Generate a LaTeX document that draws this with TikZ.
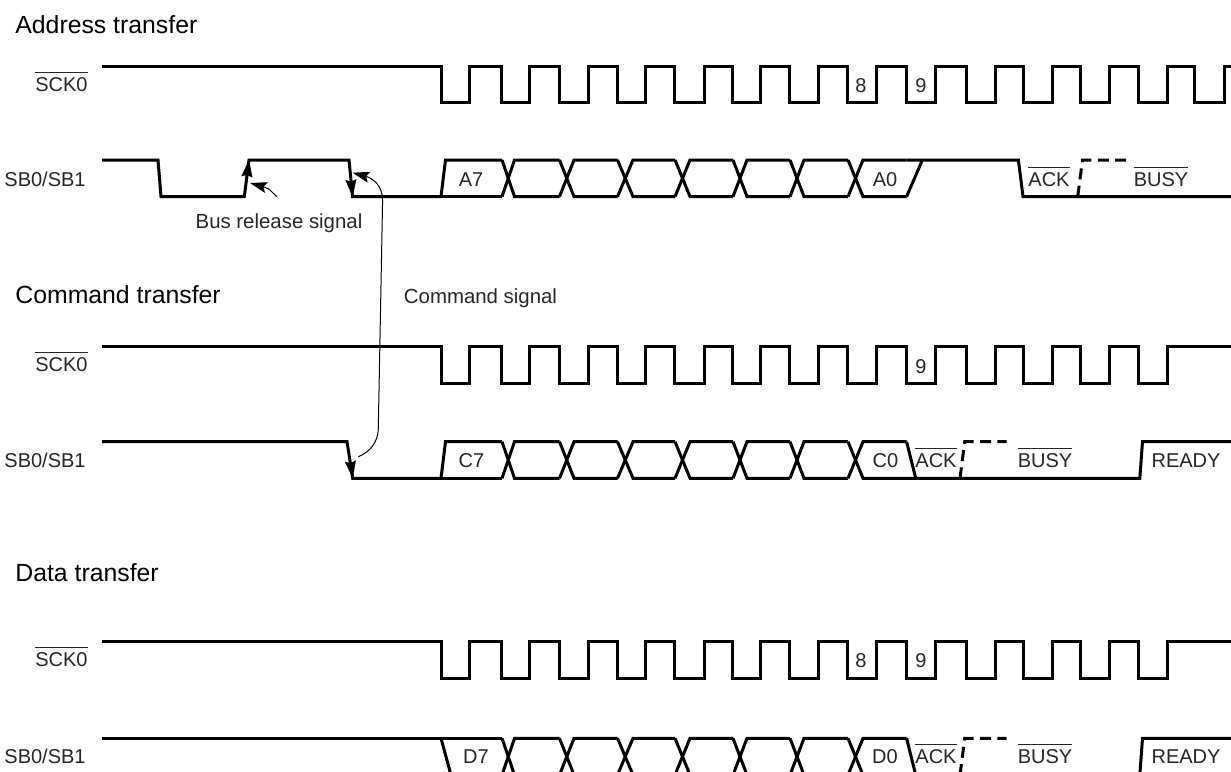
\documentclass[tikz,border=0pt]{standalone}
\usepackage{fontspec}
\setmainfont{Liberation Sans}
\usetikzlibrary{arrows.meta}
\newcommand{\barred}[1]{$\overline{\mbox{\rule{0pt}{8.1pt}#1}}$}
\def\clkedges{441/469,501/529,559/588,617/645.7,674.5/704,732/760,789/818,847/876,906.5/935.5,966/995,1023/1052,1080.5/1109,1138.5/1167.5}
\def\buscross{502/514.5/559.5,559.5/574/617.5,617.5/633/675,675/690/733,733/747/790,790/804/848,848/863/906.6}
\tikzset{
  wave/.style={line width=1.5pt,line join=miter},
  dashwave/.style={wave,dash pattern=on 5.5pt off 3.2pt},
  pointer/.style={line width=0.5pt,-{Stealth[length=8.5pt,width=5.5pt,inset=1.5pt]}},
  edgetip/.style={line width=0.1pt,-{Stealth[length=8.5pt,width=5.5pt,inset=1pt]}},
  title/.style={anchor=base west,inner sep=0pt,font=\fontsize{12.4}{14}\selectfont},
  lbl/.style={anchor=base,inner sep=0pt,font=\fontsize{10}{12}\selectfont,text=black!85},
  caption/.style={lbl,font=\fontsize{10.2}{12}\selectfont},
  rowlbl/.style={lbl,anchor=base east}
}
\begin{document}
\begin{tikzpicture}[x=0.5pt,y=-0.5pt]
  \useasboundingbox (0,0) rectangle (1231,771);
  \clip (0,0) rectangle (1231,771);

  \node[title] (addr) at (15,33) {Address transfer};
  \node[title] (cmd) at (15,303) {Command transfer};
  \node[title] (data) at (15,581) {Data transfer};

  % clock rows
  \draw[wave] (102,66) \foreach \f/\r in \clkedges { -- (\f,66) -- (\f,102.6) -- (\r,102.6) -- (\r,66) }
    -- (1194,66) -- (1194,102.6) -- (1224,102.6) -- (1224,66) -- (1231,66);
  \foreach \y in {346.7,641.7}{
    \draw[wave] (102,\y) \foreach \f/\r in \clkedges { -- (\f,\y) -- (\f,\y+36.6) -- (\r,\y+36.6) -- (\r,\y) } -- (1231,\y);
  }

  % bus crossings
  \foreach \y in {160,441.7,738.3}{
    \foreach \a/\b/\c in \buscross {
      \draw[wave] (\a,\y) -- (\b,\y+36.6) -- (\c,\y+36.6);
      \draw[wave] (\a,\y+36.6) -- (\b,\y) -- (\c,\y);
    }
  }

  % address row
  \draw[wave] (102,160) -- (158,160) -- (161,196.6) -- (244.3,196.6) -- (249,160) -- (349,160) -- (352.6,196.6)
    -- (441,196.6) -- (445.5,160) -- (502,160);
  \draw[wave] (441,196.6) -- (502,196.6);
  \draw[wave] (906.6,160) -- (1018.4,160) -- (1023,196.6) -- (1231,196.6);
  \draw[wave] (906.6,196.6) -- (922.4,160);
  \draw[dashwave] (1077.7,196.6) -- (1082.5,160) -- (1126,160);

  % command row
  \draw[wave] (102,441.7) -- (347,441.7) -- (352.7,478.3) -- (441,478.3) -- (445.5,441.7) -- (502,441.7);
  \draw[wave] (441,478.3) -- (502,478.3);
  \draw[wave] (906,478.3) -- (1139.8,478.3) -- (1142.5,441.7) -- (1231,441.7);
  \draw[wave] (906.6,441.7) -- (915.7,478.3);
  \draw[dashwave] (960,478.3) -- (964.7,441.7) -- (1006.5,441.7);

  % data row
  \draw[wave] (102,738.3) -- (502,738.3);
  \draw[wave] (441,738.3) -- (451,775);
  \draw[wave] (906.6,738.3) -- (915.7,775);
  \draw[dashwave] (960,775) -- (964.7,738.3) -- (1006.5,738.3);
  \draw[wave] (1139.8,775) -- (1142.5,738.3) -- (1231,738.3);

  % row names
  \foreach \n/\y in {1/91,2/371,3/666}{
    \node[rowlbl] (sck\n) at (88,\y) {\barred{SCK0}};
  }
  \foreach \n/\y in {1/186,2/467,3/763}{
    \node[rowlbl] (sb\n) at (86,\y) {SB0/SB1};
  }

  % labels on the waves
  \node[lbl] (a7) at (471,186) {A7};
  \node[lbl] (a0) at (885,186) {A0};
  \node[lbl] (ack1) at (1049,186) {\barred{ACK}};
  \node[lbl] (busy1) at (1161,186) {\barred{BUSY}};
  \node[lbl] (c7) at (471.5,467) {C7};
  \node[lbl] (c0) at (885.5,467) {C0};
  \node[lbl] (ack2) at (936,467) {\barred{ACK}};
  \node[lbl] (busy2) at (1045,467) {\barred{BUSY}};
  \node[lbl] (ready2) at (1186,467) {READY};
  \node[lbl] (d7) at (476,763) {D7};
  \node[lbl] (d0) at (885,763) {D0};
  \node[lbl] (ack3) at (936,763) {\barred{ACK}};
  \node[lbl] (busy3) at (1045,763) {\barred{BUSY}};
  \node[lbl] (ready3) at (1186,763) {READY};
  \node[lbl] (n8a) at (861,92) {8};
  \node[lbl] (n9a) at (921,92) {9};
  \node[lbl] (n9b) at (921,373) {9};
  \node[lbl] (n8c) at (861,667) {8};
  \node[lbl] (n9c) at (921,667) {9};

  \node[caption] (busrel) at (279,228) {Bus release signal};
  \node[caption] (cmdsig) at (480.5,303) {Command signal};

  % arrows
  \coordinate (relfrom) at (276.7,196.6);
  \coordinate (relto) at (250,183);
  \coordinate (risebase) at (244.6,196);
  \coordinate (risetip) at (249,160);
  \coordinate (fallbase) at (349.5,165);
  \coordinate (falltip) at (352.6,196.6);
  \coordinate (cfallbase) at (348.5,447);
  \coordinate (cfalltip) at (352.7,478);
  \coordinate (cmdfrom) at (358.3,456.7);
  \coordinate (cmdto) at (352.6,172.7);

  \draw[pointer] (relfrom) .. controls (268,188) .. (relto);
  \draw[edgetip] (risebase) -- (risetip);
  \draw[edgetip] (fallbase) -- (falltip);
  \draw[edgetip] (cfallbase) -- (cfalltip);
  \draw[pointer] (cmdfrom) .. controls (370,452) and (378.3,442) .. (378.3,428)
    -- (382.6,200) .. controls (382.6,185) and (372,178) .. (cmdto);
\end{tikzpicture}
\end{document}
